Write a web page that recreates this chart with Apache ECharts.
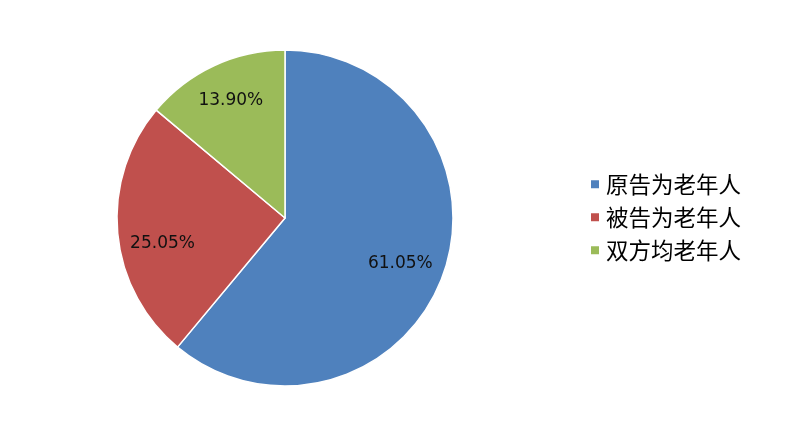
<!DOCTYPE html>
<html><head><meta charset="utf-8">
<script src="https://cdn.jsdelivr.net/npm/echarts@6/dist/echarts.min.js"></script>
<style>html,body{margin:0;padding:0;background:#fff}#c{width:800px;height:435px}</style>
</head><body><div id="c"></div>
<script>
const categories = ['原告为老年人', '被告为老年人', '双方均老年人'];
const values = [61.05, 25.05, 13.90];
const colors = ['#4F81BD', '#C0504D', '#9BBB59'];
const labelOffsets = [[-5, 2], [5, 14], [0, -1]];

const data = categories.map((n, i) => ({ name: n, value: values[i], itemStyle: { color: colors[i] } }));
const chart = echarts.init(document.getElementById('c'), null, { renderer: 'canvas' });
chart.setOption({
  animation: false,
  legend: {
    orient: 'vertical', left: 584, top: 168,
    itemWidth: 10, itemHeight: 10, itemGap: 10.5,
    icon: 'rect',
    textStyle: { fontSize: 22.5, lineHeight: 22, color: '#000', fontFamily: 'Noto Sans CJK SC', padding: [0, 0, 0, 1] },
    data: categories
  },
  series: [
    {
      type: 'pie', center: [285, 218], radius: [0, 168], startAngle: 90, clockwise: true,
      label: { show: false }, labelLine: { show: false },
      itemStyle: { borderColor: '#fff', borderWidth: 1.5 },
      emphasis: { disabled: true },
      data: data
    },
    {
      type: 'pie', center: [285, 218], radius: [0, 250], startAngle: 90, clockwise: true,
      silent: true, legendHoverLink: false,
      itemStyle: { color: 'rgba(0,0,0,0)', borderWidth: 0 },
      label: {
        show: true, position: 'inside', fontSize: 17, color: '#111',
        fontFamily: 'DejaVu Sans',
        formatter: p => p.value.toFixed(2) + '%'
      },
      labelLine: { show: false },
      emphasis: { disabled: true },
      data: categories.map((n, i) => ({ name: n, value: values[i], label: { offset: labelOffsets[i] } }))
    }
  ]
});
</script></body></html>
